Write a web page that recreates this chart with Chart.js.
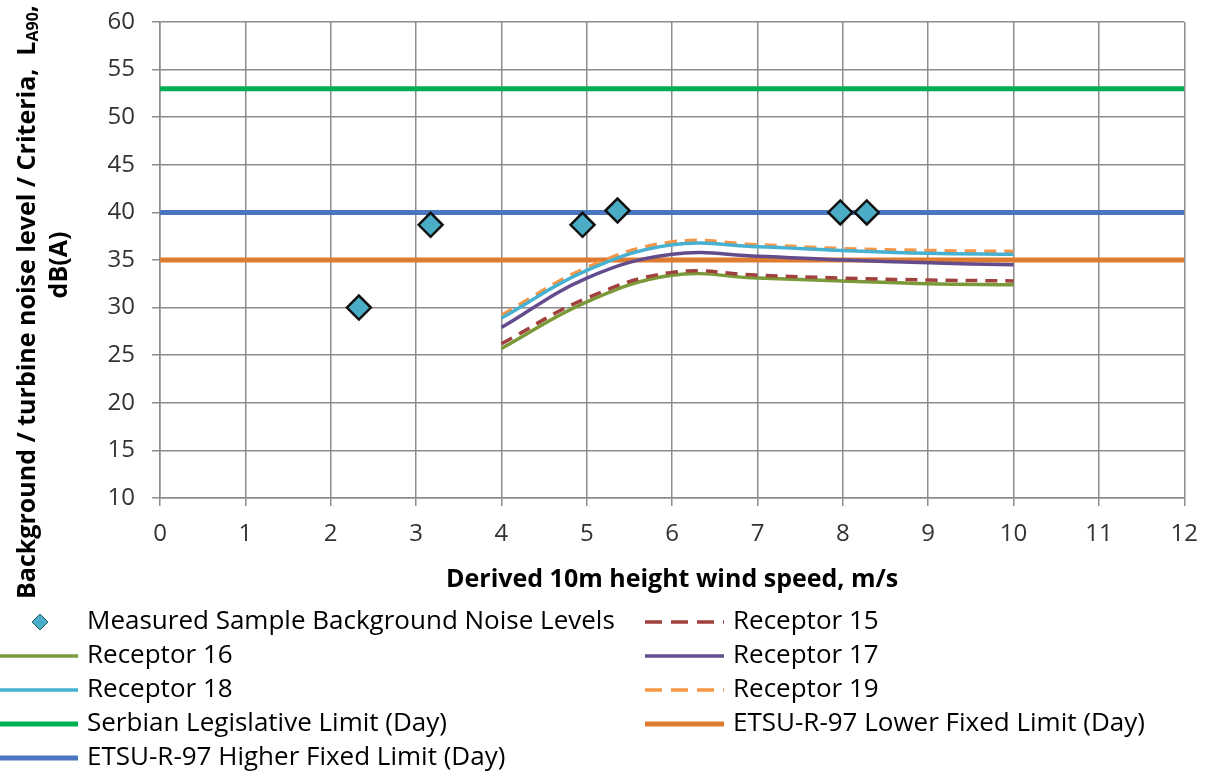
<!DOCTYPE html>
<html>
<head>
<meta charset="utf-8">
<script src="https://cdn.jsdelivr.net/npm/chart.js@4.4.1/dist/chart.umd.min.js"></script>
<style>
  html, body { margin: 0; padding: 0; background: #fff; }
  #wrap { width: 1212px; height: 776px; }
</style>
</head>
<body>
<div id="wrap"><canvas id="chart" width="1212" height="776"></canvas></div>
<script>
const FONT = '"Open Sans", Lato, sans-serif'

// measured background samples
const measuredSpeed = [2.33, 3.17, 4.95, 5.36, 7.97, 8.28]
const measuredLevel = [30.0, 38.7, 38.7, 40.2, 40.0, 40.0]

// predicted turbine noise at each receptor
const receptorSpeed = [4, 5, 6, 7, 8, 9, 10]
const receptor15 = [26.2, 31.0, 33.7, 33.4, 33.1, 32.9, 32.8]
const receptor16 = [25.7, 30.6, 33.4, 33.1, 32.8, 32.5, 32.4]
const receptor17 = [27.9, 33.1, 35.6, 35.4, 35.0, 34.7, 34.5]
const receptor18 = [28.9, 33.9, 36.6, 36.4, 36.0, 35.7, 35.6]
const receptor19 = [29.2, 34.2, 36.9, 36.6, 36.2, 36.0, 35.9]

// fixed limits
const limitSpeed = [0, 12]
const serbianLimit = [53, 53]
const etsuLower = [35, 35]
const etsuHigher = [40, 40]

const xTitle = 'Derived 10m height wind speed, m/s'
const yTitleMain = 'Background / turbine noise level / Criteria,  L'
const yTitleSub = 'A90'
const yTitleTail = ','
const yTitle2 = 'dB(A)'

const toPoints = (xs, ys) => xs.map((x, i) => ({ x: x, y: ys[i] }))

function receptorSet(label, values, color, dashed) {
	return {
		label: label,
		data: toPoints(receptorSpeed, values),
		showLine: true,
		borderColor: color,
		backgroundColor: color,
		borderWidth: 3.5,
		borderDash: dashed ? [12, 8] : [],
		tension: 0.4,
		pointRadius: 0,
		order: 1,
	}
}

function limitSet(label, values, color) {
	return {
		label: label,
		data: toPoints(limitSpeed, values),
		showLine: true,
		borderColor: color,
		backgroundColor: color,
		borderWidth: 5,
		pointRadius: 0,
		order: 2,
	}
}

const datasets = [
	{
		label: 'Measured Sample Background Noise Levels',
		data: toPoints(measuredSpeed, measuredLevel),
		pointStyle: 'rectRot',
		pointRadius: 12,
		pointBackgroundColor: '#4BACC6',
		pointBorderColor: '#111',
		pointBorderWidth: 2.5,
		backgroundColor: '#4BACC6',
		borderColor: '#111',
		order: 0,
	},
	receptorSet('Receptor 15', receptor15, '#A0413E', true),
	receptorSet('Receptor 16', receptor16, '#7A9A39', false),
	receptorSet('Receptor 17', receptor17, '#644C8C', false),
	receptorSet('Receptor 18', receptor18, '#46B1D0', false),
	receptorSet('Receptor 19', receptor19, '#F79646', true),
	limitSet('Serbian Legislative Limit (Day)', serbianLimit, '#00B050'),
	limitSet('ETSU-R-97 Lower Fixed Limit (Day)', etsuLower, '#DE7B30'),
	limitSet('ETSU-R-97 Higher Fixed Limit (Day)', etsuHigher, '#4A76C0'),
]

const extraText = {
	id: 'extraText',
	afterDraw(chart) {
		const { ctx, chartArea } = chart
		ctx.save()
		ctx.fillStyle = '#000'
		ctx.textBaseline = 'middle'

		// x axis title
		ctx.font = 'bold 25px ' + FONT
		ctx.textAlign = 'center'
		ctx.fillText(xTitle, (chartArea.left + chartArea.right) / 2, 580)

		// y axis title, rotated, with subscript
		const big = 'bold 25px ' + FONT
		const small = 'bold 16px ' + FONT
		ctx.save()
		ctx.translate(28, 302)
		ctx.rotate(-Math.PI / 2)
		ctx.textAlign = 'left'
		ctx.font = big
		const w1 = ctx.measureText(yTitleMain).width
		const w3 = ctx.measureText(yTitleTail).width
		ctx.font = small
		const w2 = ctx.measureText(yTitleSub).width
		let x = -(w1 + w2 + w3) / 2
		ctx.font = big
		ctx.fillText(yTitleMain, x, 0)
		x += w1
		ctx.font = small
		ctx.fillText(yTitleSub, x, 5)
		x += w2
		ctx.font = big
		ctx.fillText(yTitleTail, x, 0)
		ctx.restore()
		ctx.save()
		ctx.translate(60, 265)
		ctx.rotate(-Math.PI / 2)
		ctx.textAlign = 'center'
		ctx.font = big
		ctx.fillText(yTitle2, 0, 0)
		ctx.restore()

		// legend, two columns
		const lineX = [-1, 645]
		const textX = [87, 733]
		ctx.font = '26px ' + FONT
		ctx.textAlign = 'left'
		chart.data.datasets.forEach((ds, i) => {
			const col = i % 2
			const row = Math.floor(i / 2)
			const y = 622 + row * 34
			if (ds.showLine) {
				ctx.beginPath()
				ctx.strokeStyle = ds.borderColor
				ctx.lineWidth = ds.borderWidth
				ctx.setLineDash(ds.borderDash && ds.borderDash.length ? [17, 9] : [])
				ctx.moveTo(lineX[col], y)
				ctx.lineTo(lineX[col] + 79, y)
				ctx.stroke()
				ctx.setLineDash([])
			} else {
				const cx = lineX[col] + 41
				const r = 8
				ctx.beginPath()
				ctx.moveTo(cx - r, y)
				ctx.lineTo(cx, y - r)
				ctx.lineTo(cx + r, y)
				ctx.lineTo(cx, y + r)
				ctx.closePath()
				ctx.fillStyle = '#4BACC6'
				ctx.fill()
				ctx.strokeStyle = '#2a5e6e'
				ctx.lineWidth = 1
				ctx.stroke()
			}
			ctx.fillStyle = '#000'
			ctx.fillText(ds.label, textX[col], y)
		})
		ctx.restore()
	},
}

const gridColor = '#8c8c8c'

new Chart('chart', {
	type: 'scatter',
	data: { datasets: datasets },
	options: {
		responsive: false,
		animation: false,
		layout: { padding: { top: 22, right: 26, bottom: 0, left: 0 } },
		plugins: {
			legend: { display: false },
			tooltip: { enabled: false },
		},
		scales: {
			x: {
				type: 'linear',
				min: 0,
				max: 12,
				ticks: {
					stepSize: 1,
					padding: 14,
					color: '#333',
					font: { family: FONT, size: 24 },
				},
				grid: { color: gridColor, lineWidth: 1.5, tickLength: 8 },
				border: { color: gridColor, width: 1.5 },
				afterFit(scale) {
					scale.height = 278
				},
			},
			y: {
				type: 'linear',
				min: 10,
				max: 60,
				ticks: {
					stepSize: 5,
					padding: 17,
					color: '#333',
					font: { family: FONT, size: 24 },
				},
				grid: { color: gridColor, lineWidth: 1.5, tickLength: 8 },
				border: { color: gridColor, width: 1.5 },
				afterFit(scale) {
					scale.width = 160
					scale.paddingTop = 0
					scale.paddingBottom = 0
				},
			},
		},
	},
	plugins: [extraText],
})
</script>
</body>
</html>
